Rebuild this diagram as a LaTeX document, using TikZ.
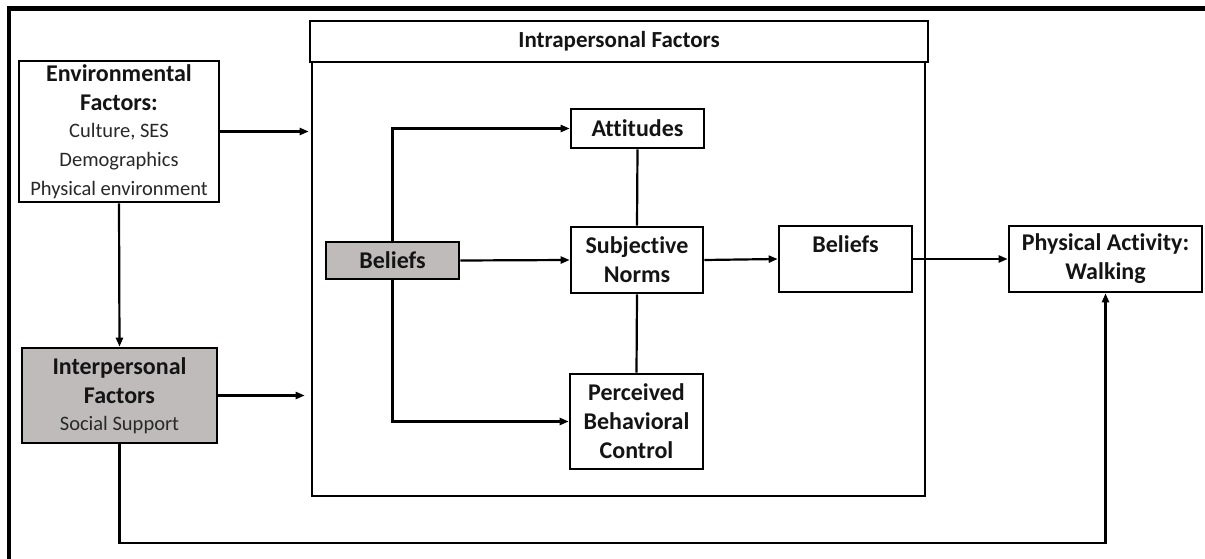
\documentclass[tikz,border=0pt]{standalone}
\usepackage{fontspec}
\setmainfont{Carlito}[Ligatures=NoCommon]
\usetikzlibrary{arrows.meta}
\definecolor{boxgray}{RGB}{191,187,187}
\definecolor{txt}{RGB}{20,20,20}
\definecolor{subtxt}{RGB}{40,40,40}
\newcommand{\bfl}{\bfseries\fontsize{24}{29}\selectfont}
\newcommand{\rgl}{\mdseries\fontsize{20.5}{25.5}\selectfont\color{subtxt}}
\begin{document}
\begin{tikzpicture}[x=1pt,y=-1pt,
  box/.style={draw=black, line width=2.6pt, inner sep=0pt, align=center, text=txt, font=\bfl},
  conn/.style={line width=2.2pt, draw=black},
  arr/.style={conn, -{Triangle[length=9pt,width=7pt]}}
]
\useasboundingbox (0,0) rectangle (1205,559);
\fill[white] (0,0) rectangle (1205,559);
% outer frame (top and left edges)
\draw[line width=4.5pt, line join=miter] (9,559) -- (9,8.5) -- (1205,8.5);

% main intrapersonal box and header
\node[box, minimum width=613pt, minimum height=434pt] (main) at (618.5,279) {};
\node[box, fill=white, minimum width=618pt, minimum height=41pt, font=\bfseries\fontsize{23}{27}\selectfont] (hdr) at (619,41.5) {Intrapersonal Factors};

% left column
\node[box, minimum width=200pt, minimum height=141pt] (env) at (119,131.5)
  {Environmental\\Factors:\\[-2pt]{\rgl Culture, SES}\\{\rgl Demographics}\\{\rgl Physical environment}};
\node[box, fill=boxgray, minimum width=195pt, minimum height=95pt] (inter) at (119.5,395.5)
  {Interpersonal\\Factors\\[-2pt]{\rgl Social Support}};

% inner boxes
\node[box, minimum width=133pt, minimum height=39pt] (att) at (637.5,128.5) {Attitudes};
\node[box, fill=boxgray, minimum width=133pt, minimum height=37pt] (bel) at (392.5,260.5) {Beliefs};
\node[box, minimum width=132pt, minimum height=66pt] (sn) at (637,260) {Subjective\\Norms};
\node[box, minimum width=133pt, minimum height=95pt] (pbc) at (636.5,421.5) {Perceived\\Behavioral\\Control};
\node[box, minimum width=133pt, minimum height=66pt] (bel2) at (845.5,259) {Beliefs\\\mbox{}};
\node[box, minimum width=193pt, minimum height=66pt] (pa) at (1105.5,259) {Physical Activity:\\Walking};

\coordinate (bot) at (0,543);

% connectors
\draw[arr] (env.east) -- ([xshift=-2pt]env.east -| main.west);
\draw[arr] (inter.east) -- ([xshift=-6pt]inter.east -| main.west);
\draw[arr] (env.south) -- (inter.north);
\draw[arr] (bel.east) -- (sn.west);
\draw[arr] (bel.north) |- (att.west);
\draw[arr] (bel.south) |- (pbc.west);
\draw[conn] (att.south) -- (sn.north);
\draw[conn] (sn.south) -- (pbc.north);
\draw[arr] (sn.east) -- (bel2.west);
\draw[arr] (bel2.east) -- (pa.west);
\draw[arr] (inter.south) -- (inter.south |- bot) -| (pa.south);
\end{tikzpicture}
\end{document}
